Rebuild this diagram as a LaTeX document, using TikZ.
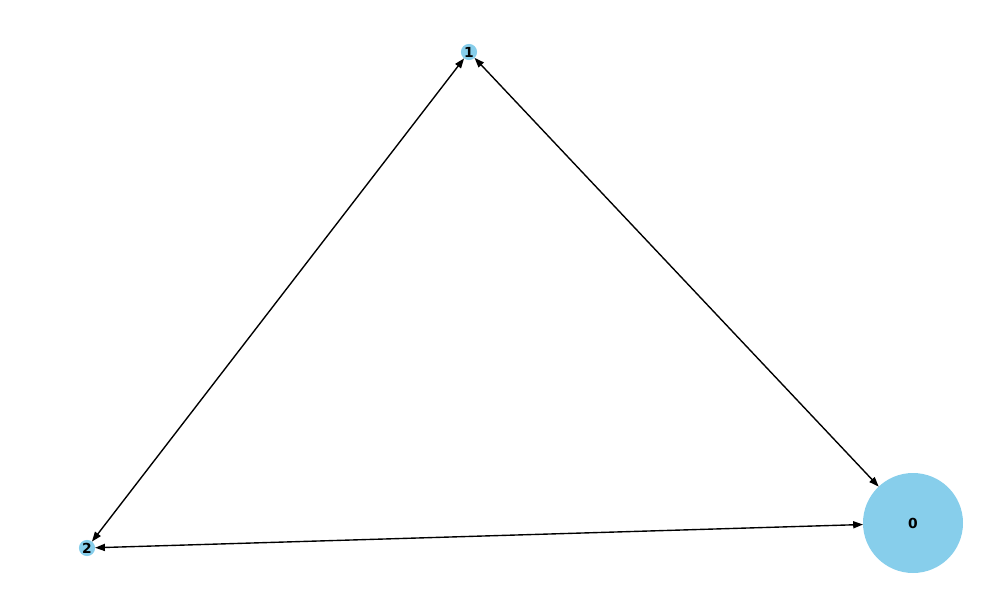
\documentclass[tikz,border=0pt]{standalone}
\usepackage{fontspec}
\setmainfont{DejaVu Sans}
\usetikzlibrary{arrows.meta}
\definecolor{skyblue}{RGB}{135,206,235}
\tikzset{
  vert/.style={circle,fill=skyblue,inner sep=0pt,outer sep=0pt,minimum size=4.1mm,font=\fontsize{10}{12}\selectfont\bfseries},
  bigvert/.style={vert,minimum size=25.4mm},
  edge/.style={line width=1pt,{Triangle[length=2.5mm,width=1.8mm]}-{Triangle[length=2.5mm,width=1.8mm]}}
}
\begin{document}
\begin{tikzpicture}[x=0.254mm,y=-0.254mm]
\useasboundingbox (0,0) rectangle (1000,600);
% vertices
\node[bigvert] (n0) at (913,523) {0};
\node[vert] (n1) at (469,52) {1};
\node[vert] (n2) at (87,548) {2};
% edges, both ways
\draw[edge] (n1) -- (n2);
\draw[edge] (n1) -- (n0);
\draw[edge] (n2) -- (n0);
\end{tikzpicture}
\end{document}
